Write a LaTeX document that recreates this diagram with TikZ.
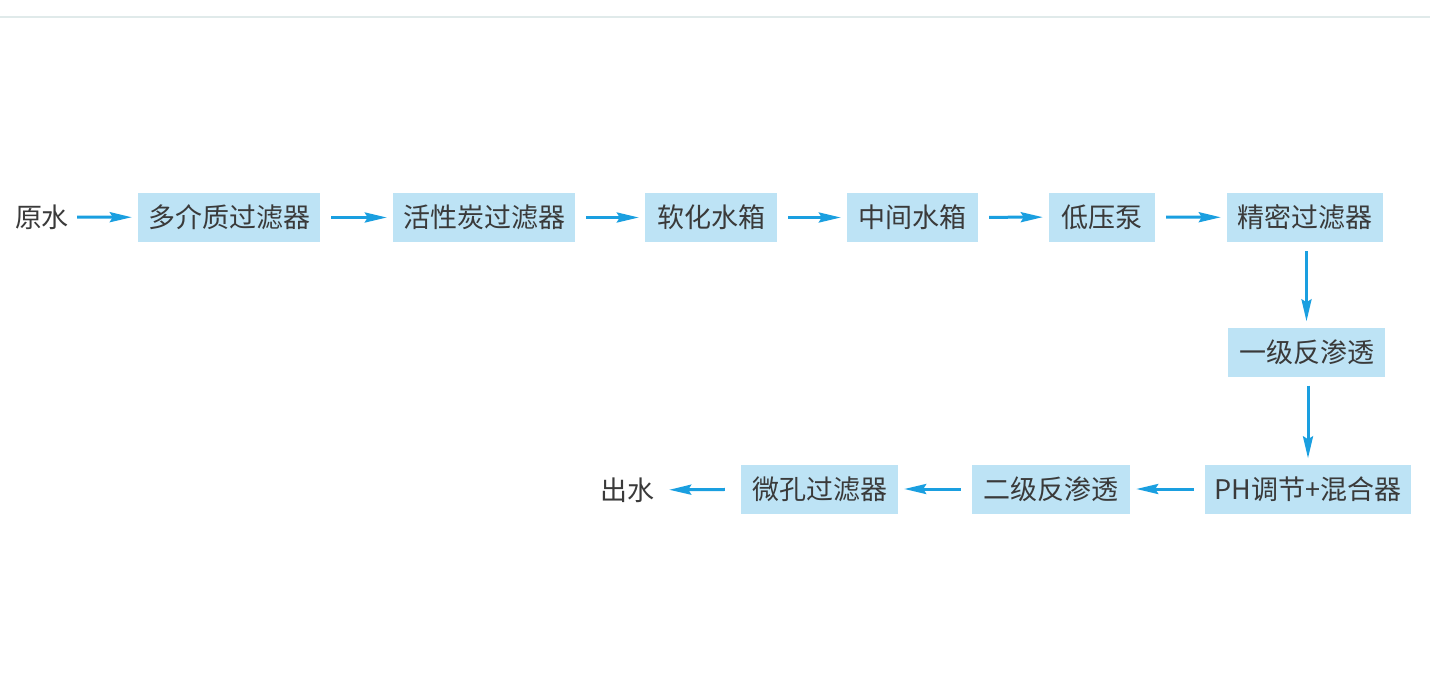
\documentclass[tikz,border=0pt]{standalone}
\usepackage{fontspec}
\setmainfont{Noto Sans CJK SC}
\usepackage{tikz}
\usetikzlibrary{arrows.meta}
\usepackage{xcolor}
\definecolor{boxblue}{HTML}{BDE3F5}
\definecolor{flowblue}{HTML}{1A9FE0}
\definecolor{txtgray}{HTML}{3A3A3A}
\definecolor{rulegray}{HTML}{E0EAEA}

\tikzset{
  unit/.style={fill=boxblue, text=txtgray, inner xsep=0pt, minimum height=49pt, font=\fontsize{27}{32}\selectfont},
  ends/.style={text=txtgray, inner sep=0pt, font=\fontsize{27}{32}\selectfont},
  flow/.style={draw=flowblue, line width=3pt, -{Stealth[length=22pt,width=10pt,inset=3pt]}, shorten <=11pt, shorten >=6pt}
}

\begin{document}
\begin{tikzpicture}[x=1pt,y=-1pt]
\useasboundingbox (0,0) rectangle (1430,685);
\draw[rulegray, line width=1.5pt] (0,17) -- (1430,17);
% top row
\node[ends] (raw) at (42,217) {原水};
\node[unit, minimum width=182pt] (mmf) at (229,217.5) {多介质过滤器};
\node[unit, minimum width=182pt] (acf) at (484,217.5) {活性炭过滤器};
\node[unit, minimum width=132pt] (soft) at (711,217.5) {软化水箱};
\node[unit, minimum width=131pt] (mid) at (912.5,217.5) {中间水箱};
\node[unit, minimum width=106pt] (lpp) at (1102,217) {低压泵};
\node[unit, minimum width=156pt] (pf) at (1305,217.5) {精密过滤器};
% right column
\node[unit, minimum width=157pt] (ro1) at (1306.5,352) {一级反渗透};
\node[unit, minimum width=206pt] (ph) at (1308,489) {PH调节+混合器};
% bottom row
\node[unit, minimum width=158pt] (ro2) at (1051,489) {二级反渗透};
\node[unit, minimum width=157pt] (mpf) at (819.5,489) {微孔过滤器};
\node[ends] (out) at (627,490) {出水};
% connectors
\draw[flow, shorten <=8pt] (raw) -- (mmf);
\draw[flow] (mmf) -- (acf);
\draw[flow] (acf) -- (soft);
\draw[flow] (soft) -- (mid);
\draw[flow] (mid) -- (lpp);
\draw[flow] (lpp) -- (pf);
\draw[flow, shorten <=9pt] (pf.south -| ro1) -- (ro1.north);
\draw[flow, shorten <=9pt] (ro1.south -| ph) -- (ph.north);
\draw[flow] (ph) -- (ro2);
\draw[flow] (ro2) -- (mpf);
\draw[flow, shorten <=16pt, shorten >=15pt] (mpf) -- (out);
\end{tikzpicture}
\end{document}
